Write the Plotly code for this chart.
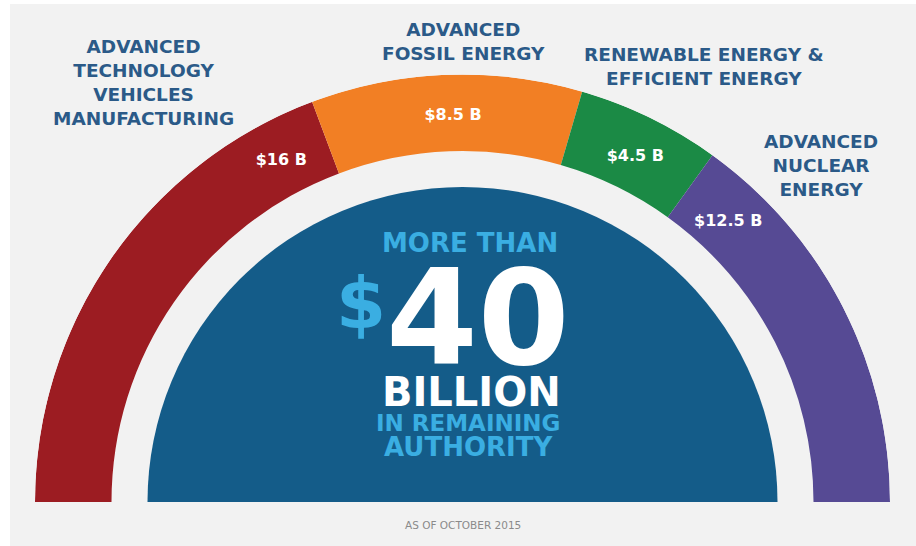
import plotly.graph_objects as go

# Remaining loan authority by program, in billions of dollars
programs = [
    "Advanced Technology Vehicles Manufacturing",
    "Advanced Fossil Energy",
    "Renewable Energy & Efficient Energy",
    "Advanced Nuclear Energy",
]
amounts_b = [16, 8.5, 4.5, 12.5]
program_titles = [
    "ADVANCED<br>TECHNOLOGY<br>VEHICLES<br>MANUFACTURING",
    "ADVANCED<br>FOSSIL ENERGY",
    "RENEWABLE ENERGY &<br>EFFICIENT ENERGY",
    "ADVANCED<br>NUCLEAR<br>ENERGY",
]
headline_total_b = 40
footnote = "AS OF OCTOBER 2015"

# Styling
W, H = 916, 546
FONT = "DejaVu Sans"
seg_colors = ["#9c1c22", "#f27f24", "#1b8a45", "#564a94"]
disk_color = "#145c89"
accent = "#3aaee2"
title_color = "#2b5a88"
bg = "#f2f2f2"

# Ring geometry in radial-axis units (one unit = one pixel)
R_OUT, R_IN, R_DISK = 427.5, 351, 315
label_r = 386
label_theta = [62, 88.6, 116.6, 133.5]

total = sum(amounts_b)
spans = [v / total * 180 for v in amounts_b]
centers = []
acc = 0
for s in spans:
    centers.append(acc + s / 2)
    acc += s

fig = go.Figure()

# Inner solid half-disk
fig.add_trace(go.Barpolar(
    theta=[90], r=[R_DISK], base=[0], width=[180],
    marker=dict(color=disk_color, line=dict(width=0)),
    hoverinfo="skip", showlegend=False,
))

# Outer ring segments
fig.add_trace(go.Barpolar(
    theta=centers, r=[R_OUT - R_IN] * len(amounts_b), base=[R_IN] * len(amounts_b),
    width=spans,
    marker=dict(color=seg_colors, line=dict(width=0)),
    customdata=programs,
    hovertemplate="%{customdata}: $%{text} B<extra></extra>",
    text=[f"{v:g}" for v in amounts_b],
    showlegend=False,
))

# Dollar amounts on the ring
fig.add_trace(go.Scatterpolar(
    theta=label_theta, r=[label_r] * len(amounts_b), mode="text",
    text=[f"${v:g} B" for v in amounts_b],
    textfont=dict(family=FONT, size=16, color="white", weight="bold"),
    hoverinfo="skip", showlegend=False,
))

cx0, cx1 = 35, 890
base_y, top_y = 502, 502 - R_OUT
fig.update_layout(
    width=W, height=H,
    margin=dict(l=0, r=0, t=0, b=0),
    paper_bgcolor="white",
    plot_bgcolor=bg,
    polar=dict(
        domain=dict(x=[cx0 / W, cx1 / W], y=[1 - base_y / H, 1 - top_y / H]),
        sector=[0, 180],
        bgcolor="rgba(0,0,0,0)",
        bargap=0,
        angularaxis=dict(direction="clockwise", rotation=180, visible=False,
                         showgrid=False, showline=False, ticks=""),
        radialaxis=dict(range=[0, R_OUT], visible=False, showgrid=False,
                        showline=False, ticks=""),
    ),
    shapes=[dict(type="rect", xref="paper", yref="paper", layer="below",
                 x0=10 / W, x1=1, y0=0, y1=1 - 4 / H,
                 fillcolor=bg, line=dict(width=0))],
)


def px_note(text, x, y, size, color, weight="bold"):
    fig.add_annotation(
        text=text, x=x / W, y=1 - y / H, xref="paper", yref="paper",
        xanchor="center", yanchor="middle", showarrow=False,
        font=dict(family=FONT, size=size, color=color, weight=weight),
    )


# Program titles around the arc
title_pos = [(143, 82), (463, 42), (704, 66), (821, 165)]
for t, (x, y) in zip(program_titles, title_pos):
    px_note(t, x, y, 18.5, title_color)

# Headline inside the half-disk
px_note("MORE THAN", 470, 243, 26, accent)
px_note("$", 361, 303, 72, accent)
px_note(f"{headline_total_b}", 478, 318, 132, "white")
px_note("BILLION", 471, 392, 40, "white")
px_note("IN REMAINING", 468, 423, 23, accent)
px_note("AUTHORITY", 468, 447, 26, accent)

px_note(footnote, 463, 525, 10.5, "#8a8a8a", weight="normal")

fig.write_html("out.html")
